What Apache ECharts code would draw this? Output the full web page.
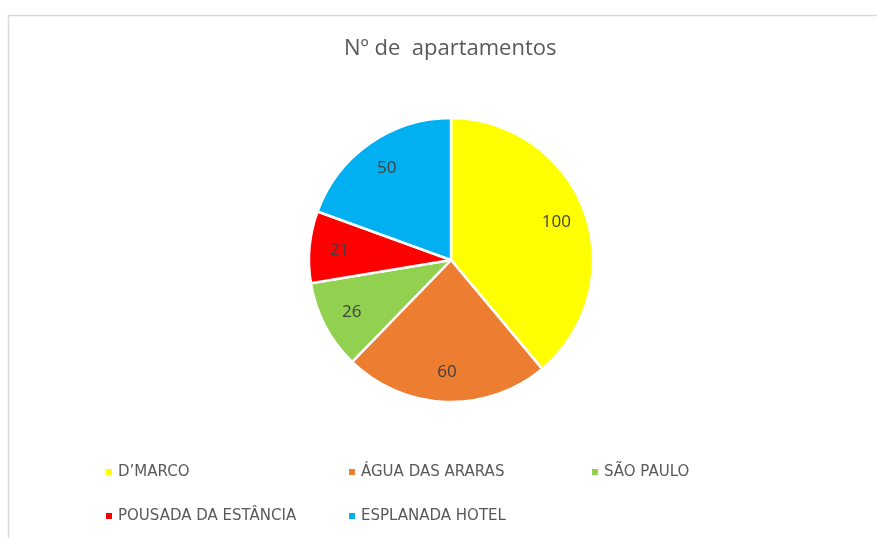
<!DOCTYPE html>
<html>
<head>
<meta charset="utf-8">
<script src="https://cdn.jsdelivr.net/npm/echarts@6/dist/echarts.min.js"></script>
<style>
  html, body { margin: 0; padding: 0; background: #fff; }
  #chart { width: 877px; height: 538px; }
</style>
</head>
<body>
<div id="chart"></div>
<script>
var hotels = ['D\u2019MARCO', 'ÁGUA DAS ARARAS', 'SÃO PAULO', 'POUSADA DA ESTÂNCIA', 'ESPLANADA HOTEL'];
var apartamentos = [100, 60, 26, 21, 50];
var colors = ['#FFFF00', '#ED7D31', '#92D050', '#FF0000', '#00B0F0'];

var chart = echarts.init(document.getElementById('chart'));

var pieData = hotels.map(function (name, i) {
  return { name: name, value: apartamentos[i], itemStyle: { color: colors[i] } };
});

var option = {
  animation: false,
  title: {
    text: 'Nº de  apartamentos',
    left: 339,
    top: 33,
    textStyle: {
      fontFamily: 'Open Sans',
      fontSize: 22,
      fontWeight: 'normal',
      color: '#595959'
    }
  },
  graphic: [{
    type: 'rect',
    shape: { x: 8.5, y: 15.5, width: 900, height: 600 },
    style: { fill: 'none', stroke: '#d9d9d9', lineWidth: 1.5 },
    silent: true
  }],
  legend: {
    data: hotels,
    left: 99,
    top: 445,
    width: 730,
    icon: 'rect',
    itemWidth: 8,
    itemHeight: 8,
    itemGap: 0,
    textStyle: {
      fontFamily: 'DejaVu Sans',
      fontSize: 15,
      color: '#595959',
      width: 229,
      lineHeight: 44
    }
  },
  series: [{
    type: 'pie',
    center: [451, 260],
    radius: [0, 142],
    startAngle: 90,
    clockwise: true,
    data: pieData,
    itemStyle: { borderColor: '#fff', borderWidth: 2.5 },
    label: { show: false },
    labelLine: { show: false }
  }, {
    type: 'pie',
    center: [451, 260],
    radius: [76, 142],
    startAngle: 90,
    clockwise: true,
    silent: true,
    legendHoverLink: false,
    data: hotels.map(function (name, i) {
      return { name: name, value: apartamentos[i] };
    }),
    itemStyle: { color: 'rgba(0,0,0,0)' },
    label: {
      show: true,
      position: 'inside',
      formatter: '{c}',
      fontFamily: 'Open Sans',
      fontSize: 17,
      color: '#404040'
    },
    labelLine: { show: false }
  }]
};

chart.setOption(option);
window.onresize = function () {
  chart.resize();
};
</script>
</body>
</html>
